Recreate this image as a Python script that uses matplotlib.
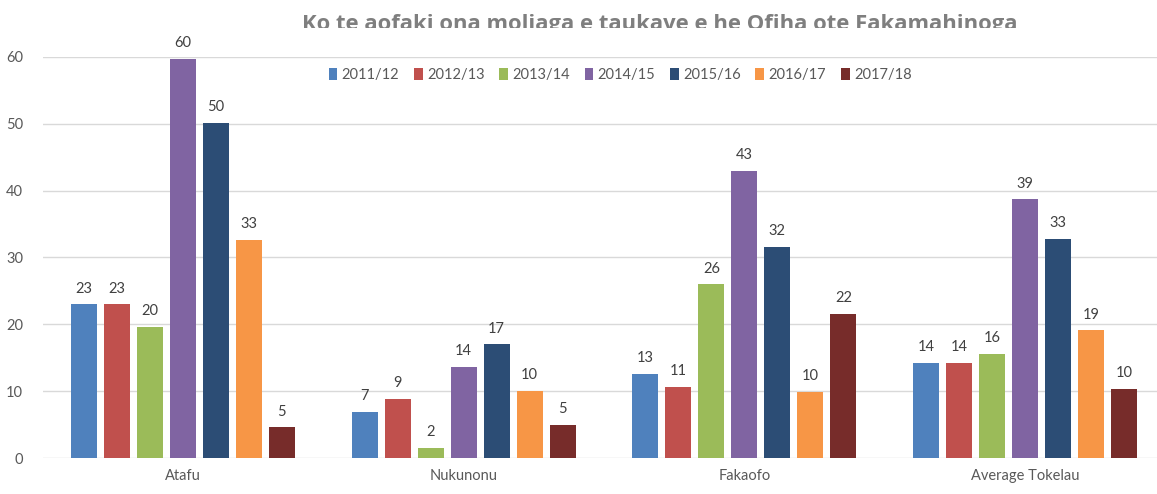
import numpy as np
import matplotlib
matplotlib.use("Agg")
import matplotlib.pyplot as plt
from matplotlib.transforms import Bbox, TransformedBbox

plt.rcParams['font.family'] = ['Lato', 'DejaVu Sans']

# 데이터
categories = ['Atafu', 'Nukunonu', 'Fakaofo', 'Average Tokelau']
years = ['2011/12', '2012/13', '2013/14', '2014/15', '2015/16', '2016/17', '2017/18']
v_2011 = [23.0, 6.9, 12.6, 14.2]
v_2012 = [23.0, 8.9, 10.6, 14.2]
v_2013 = [19.6, 1.5, 26.0, 15.6]
v_2014 = [59.7, 13.6, 43.0, 38.7]
v_2015 = [50.1, 17.0, 31.6, 32.8]
v_2016 = [32.6, 10.0, 9.9, 19.1]
v_2017 = [4.6, 5.0, 21.6, 10.3]
series = [v_2011, v_2012, v_2013, v_2014, v_2015, v_2016, v_2017]
colors = ['#4F81BD', '#C0504D', '#9BBB59', '#8064A2', '#2C4D75', '#F79646', '#772C2A']

fig = plt.figure(figsize=(11.57, 4.94), dpi=100)
ax = fig.add_axes([42.5/1157, 36/494, 1123/1157, 401/494])

x = np.arange(len(categories))
pitch = 0.1175
width = 0.093
for i, (vals, c, lab) in enumerate(zip(series, colors, years)):
    pos = x + (i - 3) * pitch
    bars = ax.bar(pos, vals, width, color=c, label=lab, zorder=3)
    for b, v in zip(bars, vals):
        ax.text(b.get_x() + b.get_width()/2, v + 1.3, '{:.0f}'.format(v),
                ha='center', va='bottom', fontsize=10.5, color='#404040', clip_on=False)

ax.set_xlim(-0.5, 3.5)
ax.set_ylim(0, 60)
ax.set_yticks(range(0, 61, 10))
ax.set_xticks(x)
ax.set_xticklabels(categories)
ax.yaxis.grid(True, color='#D9D9D9', linewidth=1, zorder=0)
for s in ax.spines.values():
    s.set_visible(False)
ax.tick_params(axis='both', length=0, labelsize=10.5, colors='#595959')
ax.tick_params(axis='x', pad=8)
ax.tick_params(axis='y', pad=14)

leg = fig.legend(loc='center', bbox_to_anchor=(620/1157, 1 - 75/494), ncol=7, frameon=False,
                 fontsize=10.5, handlelength=0.6, handleheight=0.9, handletextpad=0.3,
                 columnspacing=1.0)
for t in leg.get_texts():
    t.set_color('#595959')

# 제목 (아랫부분이 잘려 있음)
title = fig.text(660/1157, 1 - 30/494, 'Ko te aofaki ona moliaga e taukave e he Ofiha ote Fakamahinoga',
                 ha='center', va='baseline', fontsize=15.8, fontweight='bold', color='#7F7F7F',
                 family=['Open Sans', 'DejaVu Sans'])
title.set_clip_box(TransformedBbox(Bbox([[0, 1 - 28/494], [1, 1]]), fig.transFigure))
title.set_clip_on(True)

fig.savefig('out.png', dpi=100)
